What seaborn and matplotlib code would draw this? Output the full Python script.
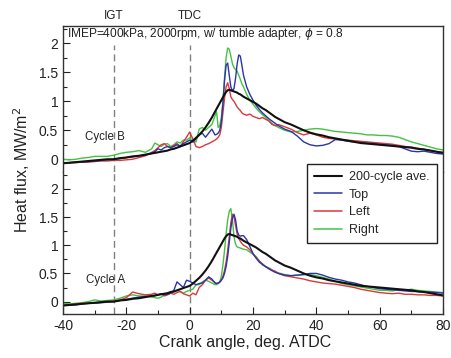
import numpy as np
import pandas as pd
import matplotlib
matplotlib.use("Agg")
import matplotlib.pyplot as plt
from matplotlib.lines import Line2D
from matplotlib.ticker import MultipleLocator
import seaborn as sns

# ---------------- data ----------------
crank = ([-40, -38, -36, -34, -32, -30, -28, -26, -24, -22, -20, -18, -16, -14, -12]
         + list(range(-11, 9))
         + [8.5, 9, 9.5, 10, 10.5, 11, 11.5, 12, 12.5, 13, 13.5, 14, 14.5, 15, 15.5, 16, 16.5, 17]
         + list(range(18, 29))
         + list(range(30, 81, 2)))

ave = ([-0.07, -0.06, -0.05, -0.04, -0.03, -0.02, -0.01, 0.0, 0.0, 0.02, 0.03, 0.05, 0.06, 0.08, 0.10]
       + [0.11, 0.12, 0.13, 0.14, 0.15, 0.17, 0.18, 0.20, 0.22, 0.24, 0.26, 0.28, 0.32, 0.37, 0.42, 0.48, 0.55, 0.63, 0.72, 0.82]
       + [0.87, 0.92, 0.97, 1.02, 1.07, 1.12, 1.16, 1.19, 1.20, 1.19, 1.18, 1.17, 1.16, 1.15, 1.13, 1.12, 1.10, 1.08]
       + [1.05, 1.02, 0.99, 0.96, 0.92, 0.88, 0.85, 0.81, 0.77, 0.73, 0.70]
       + [0.64, 0.60, 0.55, 0.50, 0.46, 0.43, 0.41, 0.38, 0.36, 0.34, 0.32, 0.30, 0.28, 0.27, 0.26, 0.25, 0.24, 0.23, 0.22, 0.21, 0.20, 0.18, 0.17, 0.15, 0.13, 0.11])

# Cycle B (upper panel)
top_B = ([-0.06, -0.06, -0.05, -0.05, -0.04, -0.03, -0.02, -0.01, 0.0, 0.01, 0.03, 0.04, 0.06, 0.07, 0.10]
         + [0.13, 0.18, 0.16, 0.20, 0.22, 0.20, 0.22, 0.25, 0.23, 0.27, 0.30, 0.33, 0.30, 0.35, 0.42, 0.45, 0.38, 0.45, 0.52, 0.42]
         + [0.43, 0.45, 0.50, 0.65, 0.95, 1.35, 1.62, 1.66, 1.45, 1.25, 1.18, 1.22, 1.40, 1.65, 1.80, 1.78, 1.62, 1.45]
         + [1.25, 1.12, 1.02, 0.93, 0.86, 0.80, 0.75, 0.70, 0.66, 0.62, 0.58]
         + [0.52, 0.48, 0.40, 0.30, 0.25, 0.23, 0.24, 0.27, 0.34, 0.33, 0.31, 0.30, 0.29, 0.28, 0.27, 0.26, 0.25, 0.24, 0.22, 0.18, 0.14, 0.13, 0.14, 0.12, 0.10, 0.09])
left_B = ([-0.07, -0.06, -0.06, -0.05, -0.05, -0.04, -0.03, -0.03, -0.02, -0.02, -0.01, 0.0, 0.03, 0.06, 0.12]
          + [0.15, 0.20, 0.25, 0.27, 0.22, 0.20, 0.24, 0.27, 0.22, 0.30, 0.38, 0.47, 0.35, 0.22, 0.20, 0.22, 0.25, 0.27, 0.30, 0.33]
          + [0.35, 0.38, 0.42, 0.55, 0.80, 1.05, 1.25, 1.32, 1.22, 1.08, 1.03, 1.00, 0.95, 0.90, 0.87, 0.84, 0.80, 0.78]
          + [0.76, 0.78, 0.74, 0.72, 0.70, 0.72, 0.69, 0.66, 0.60, 0.58, 0.60]
          + [0.56, 0.52, 0.46, 0.42, 0.45, 0.42, 0.38, 0.36, 0.35, 0.34, 0.33, 0.32, 0.31, 0.30, 0.29, 0.28, 0.27, 0.26, 0.24, 0.22, 0.21, 0.19, 0.17, 0.15, 0.13, 0.12])
right_B = ([0.0, -0.01, 0.0, 0.02, 0.03, 0.05, 0.05, 0.05, 0.07, 0.10, 0.12, 0.13, 0.15, 0.12, 0.18]
           + [0.28, 0.25, 0.22, 0.26, 0.27, 0.22, 0.25, 0.30, 0.28, 0.33, 0.33, 0.37, 0.30, 0.30, 0.52, 0.55, 0.50, 0.55, 0.60, 0.75]
           + [0.82, 0.55, 0.58, 0.72, 1.00, 1.40, 1.75, 1.92, 1.90, 1.78, 1.65, 1.58, 1.55, 1.52, 1.45, 1.38, 1.30, 1.25]
           + [1.12, 1.02, 0.95, 0.88, 0.82, 0.77, 0.72, 0.67, 0.62, 0.58, 0.55]
           + [0.50, 0.47, 0.48, 0.50, 0.52, 0.53, 0.52, 0.50, 0.48, 0.47, 0.46, 0.45, 0.44, 0.42, 0.42, 0.41, 0.41, 0.40, 0.38, 0.34, 0.30, 0.27, 0.24, 0.21, 0.18, 0.16])

# Cycle A (lower panel)
top_A = ([-0.07, -0.06, -0.06, -0.04, -0.03, -0.03, -0.02, -0.01, 0.0, 0.02, 0.04, 0.06, 0.08, 0.09, 0.10]
         + [0.10, 0.12, 0.14, 0.12, 0.13, 0.15, 0.20, 0.35, 0.30, 0.25, 0.38, 0.36, 0.33, 0.30, 0.32, 0.33, 0.38, 0.44, 0.40, 0.33]
         + [0.32, 0.33, 0.35, 0.38, 0.42, 0.50, 0.62, 0.80, 1.05, 1.30, 1.48, 1.55, 1.45, 1.25, 1.18, 1.16, 1.17, 1.17]
         + [1.10, 0.98, 0.85, 0.77, 0.70, 0.66, 0.62, 0.58, 0.55, 0.52, 0.50]
         + [0.47, 0.46, 0.47, 0.48, 0.50, 0.50, 0.47, 0.43, 0.40, 0.38, 0.35, 0.33, 0.30, 0.27, 0.25, 0.23, 0.22, 0.21, 0.20, 0.19, 0.18, 0.18, 0.17, 0.17, 0.16, 0.15])
left_A = ([-0.06, -0.06, -0.04, -0.03, -0.03, -0.02, -0.01, 0.0, 0.01, 0.03, 0.07, 0.17, 0.14, 0.12, 0.13]
          + [0.15, 0.12, 0.14, 0.10, 0.12, 0.15, 0.13, 0.16, 0.18, 0.14, 0.12, 0.10, 0.15, 0.12, 0.25, 0.30, 0.38, 0.42, 0.38, 0.34]
          + [0.32, 0.33, 0.34, 0.38, 0.45, 0.55, 0.70, 0.90, 1.15, 1.40, 1.55, 1.50, 1.35, 1.20, 1.12, 1.07, 1.03, 1.00]
          + [0.97, 0.92, 0.85, 0.78, 0.72, 0.67, 0.62, 0.59, 0.56, 0.54, 0.50]
          + [0.46, 0.44, 0.42, 0.40, 0.37, 0.35, 0.33, 0.32, 0.31, 0.29, 0.27, 0.25, 0.22, 0.20, 0.18, 0.16, 0.15, 0.14, 0.15, 0.13, 0.13, 0.12, 0.12, 0.11, 0.11, 0.10])
right_A = ([-0.03, -0.04, -0.03, -0.02, 0.0, 0.03, 0.01, 0.02, 0.03, 0.06, 0.10, 0.12, 0.10, 0.10, 0.08]
           + [0.07, 0.06, 0.08, 0.12, 0.13, 0.15, 0.17, 0.20, 0.18, 0.15, 0.18, 0.20, 0.22, 0.30, 0.30, 0.35, 0.38, 0.36, 0.33, 0.30]
           + [0.30, 0.32, 0.35, 0.45, 0.65, 0.90, 1.20, 1.45, 1.60, 1.65, 1.45, 1.15, 1.02, 0.97, 0.96, 0.95, 0.94, 0.93]
           + [0.92, 0.88, 0.84, 0.80, 0.72, 0.65, 0.62, 0.60, 0.56, 0.53, 0.51]
           + [0.48, 0.46, 0.47, 0.48, 0.48, 0.46, 0.43, 0.40, 0.36, 0.32, 0.30, 0.28, 0.26, 0.24, 0.22, 0.20, 0.20, 0.19, 0.21, 0.20, 0.22, 0.20, 0.19, 0.18, 0.17, 0.16])

series_names = ["200-cycle ave.", "Top", "Left", "Right"]
series_colors = ["#111111", "#2b35a8", "#d9393a", "#45c145"]
ign_angle = -24
tdc_angle = 0

# ---------------- figure ----------------
sns.set_style("ticks")
plt.rcParams["font.family"] = ["Liberation Sans", "DejaVu Sans"]
plt.rcParams["mathtext.fontset"] = "dejavusans"

W, H = 451, 358
fig = plt.figure(figsize=(W / 100, H / 100), dpi=100)
left, right = 63 / W, 443 / W
top, mid, bot = 1 - 26 / H, 1 - 172 / H, 1 - 314 / H
ax_b = fig.add_axes([left, mid, right - left, top - mid])
ax_a = fig.add_axes([left, bot, right - left, mid - bot])

palette = dict(zip(series_names, series_colors))
widths = {"200-cycle ave.": 1.5, "Top": 1.0, "Left": 1.0, "Right": 1.0}

def draw(ax, t, l, r, vtop):
    df = pd.DataFrame({
        "angle": crank * 3,
        "flux": t + l + r,
        "series": ["Top"] * len(crank) + ["Left"] * len(crank) + ["Right"] * len(crank),
    })
    for name in ["Right", "Left", "Top"]:
        sub = df[df["series"] == name]
        sns.lineplot(data=sub, x="angle", y="flux", color=palette[name],
                     lw=widths[name], ax=ax, estimator=None, sort=False, legend=False)
    avg = pd.DataFrame({"angle": crank, "flux": ave})
    sns.lineplot(data=avg, x="angle", y="flux", color=palette["200-cycle ave."],
                 lw=1.5, ax=ax, estimator=None, sort=False, legend=False)
    for xv in (ign_angle, tdc_angle):
        ax.axvline(xv, ymax=vtop, color="#808080", lw=1.0, ls=(0, (5, 3)), zorder=0)
    ax.set_xlim(-40, 80)
    ax.set_ylim(-0.22, 2.3)
    ax.set_xlabel("")
    ax.set_ylabel("")
    ax.yaxis.set_major_locator(MultipleLocator(0.5))
    ax.yaxis.set_minor_locator(MultipleLocator(0.25))
    ax.xaxis.set_major_locator(MultipleLocator(20))
    ax.xaxis.set_minor_locator(MultipleLocator(10))
    ax.tick_params(axis="both", which="major", direction="in", length=5, width=0.8,
                   labelsize=10, colors="#222222", right=False, top=False)
    ax.tick_params(axis="both", which="minor", direction="in", length=3, width=0.8,
                   right=False, top=False)
    ax.set_yticks([0, 0.5, 1, 1.5, 2])
    ax.set_yticklabels(["0", "0.5", "1", "1.5", "2"])
    for s in ax.spines.values():
        s.set_color("#333333")
        s.set_linewidth(1.0)

draw(ax_b, top_B, left_B, right_B, 0.87)
draw(ax_a, top_A, left_A, right_A, 1.0)

ax_b.spines["bottom"].set_visible(False)
ax_a.spines["top"].set_visible(False)
ax_b.tick_params(axis="x", which="both", bottom=False, labelbottom=False)
ax_a.set_xticks([-40, -20, 0, 20, 40, 60, 80])
ax_a.set_xticklabels(["-40", "-20", "0", "20", "40", "60", "80"])

ax_b.text(-38.6, 2.16, r"IMEP=400kPa, 2000rpm, w/ tumble adapter, $\phi$ = 0.8",
          fontsize=8.6, va="center", ha="left", color="#222222")
ax_b.text(ign_angle, 2.48, "IGT", fontsize=8.5, ha="center", va="center", clip_on=False, color="#222222")
ax_b.text(tdc_angle, 2.48, "TDC", fontsize=8.5, ha="center", va="center", clip_on=False, color="#222222")
ax_b.text(-26.7, 0.38, "Cycle B", fontsize=8.3, ha="center", va="center", color="#222222")
ax_a.text(-26.7, 0.39, "Cycle A", fontsize=8.3, ha="center", va="center", color="#222222")

fig.text(22 / W, 1 - 170 / H, "Heat flux, MW/m$^2$", rotation=90, ha="center", va="center",
         fontsize=11.5, color="#222222")
fig.text(245 / W, 1 - 342 / H, "Crank angle, deg. ATDC", ha="center", va="center",
         fontsize=11.5, color="#222222")

handles = [Line2D([], [], color=c, lw=(1.5 if i == 0 else 1.1)) for i, c in enumerate(series_colors)]
leg = fig.legend(handles, series_names, loc="upper right",
                 bbox_to_anchor=(436.5 / W, 1 - 164.3 / H), borderaxespad=0,
                 fontsize=9, frameon=True, fancybox=False, edgecolor="#222222",
                 framealpha=1, handlelength=2.3, borderpad=0.55, labelspacing=0.45,
                 handletextpad=0.55)
leg.get_frame().set_linewidth(1.0)

fig.savefig("out.png", dpi=100)
